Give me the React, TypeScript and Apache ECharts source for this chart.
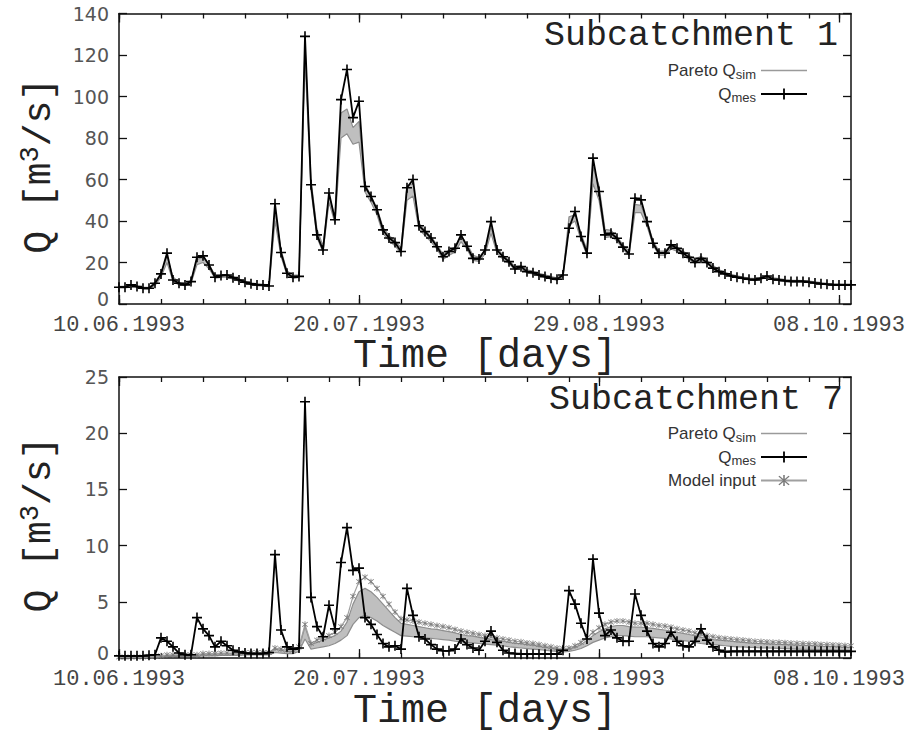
import React, { useEffect, useRef } from "react";
import * as echarts from "echarts";

// ---------- axes / ticks ----------
const startDay = { year: 1993, month: 6, day: 10 }; // 10.06.1993
const dayCount = 123;
const xTickLabels = ["10.06.1993", "20.07.1993", "29.08.1993", "08.10.1993"];
const minorTickStepDays = 7;
const yTicks1 = [0, 20, 40, 60, 80, 100, 120, 140];
const yTicks7 = [0, 5, 10, 15, 20, 25];

// ---------- Subcatchment 1 (daily values, m3/s) ----------
const q1Measured = [
  8.1, 8.1, 9.2, 8.4, 7.6, 7.6, 10, 14.5, 24.5, 11.6,
  10, 9.2, 10.8, 22.5, 23.2, 18.8, 12.9, 13.7, 14, 12.7,
  11.6, 10.5, 9.7, 9.2, 9.2, 8.7, 48.3, 24.8, 14.8, 12.9,
  13.3, 129, 57.5, 33.3, 26, 53.5, 40.6, 98.5, 113, 89.8,
  97.7, 56.6, 51.8, 45.4, 35.7, 31.8, 29.6, 25.3, 56, 60,
  37.7, 34.9, 31.8, 27.6, 22.8, 25.3, 26.9, 33.3, 27.8, 22,
  21.7, 26, 39.7, 26, 22.8, 20.4, 16.9, 18, 15.6, 15.1,
  14, 13.2, 12.4, 11.9, 14, 36.5, 44.6, 32.5, 24.5, 70.3,
  54.2, 33.3, 34.1, 31.7, 27.4, 24.1, 51, 50.2, 39.7, 29.3,
  24.5, 24.5, 28.5, 26.9, 24.5, 22.5, 20, 22, 20, 17.3,
  15.6, 14.5, 13.5, 12.9, 12.4, 11.9, 11.6, 12.4, 13.5, 11.9,
  11.6, 11.2, 10.9, 10.9, 10.9, 10.5, 10.1, 9.7, 9.5, 9.2,
  9.2, 9.2, 9.2,
];
const q1ParetoHigh = [
  8.5, 8.5, 9.0, 8.8, 8.2, 8.0, 10.5, 15, 23, 13,
  10.5, 9.8, 11.5, 21.5, 22.5, 19, 14, 14.2, 14.2, 13.2,
  12, 11, 10.2, 9.8, 9.5, 9.2, 45, 26, 16, 13.8,
  14, 125, 60, 36, 28, 52, 42, 92, 94, 85,
  88, 58, 52, 46, 37, 33, 30.5, 27, 57, 58,
  39, 35.5, 32.5, 28.5, 24, 26, 27.5, 33, 29, 23.5,
  22.5, 26, 37, 27, 23.5, 21, 18, 18.5, 16.5, 15.8,
  14.8, 14, 13.2, 12.6, 14.5, 42, 43, 34, 26, 66,
  57, 36, 35.5, 32.5, 28.5, 25.5, 48, 47.5, 40, 30.5,
  25.5, 25.5, 28.5, 27.5, 25.5, 23.5, 21.5, 23, 21, 18.5,
  16.5, 15.3, 14.3, 13.6, 13, 12.5, 12.2, 12.8, 13.6, 12.6,
  12.2, 11.8, 11.5, 11.4, 11.3, 11, 10.7, 10.3, 10, 9.8,
  9.7, 9.6, 9.6,
];
const q1ParetoLow = [
  7.8, 7.8, 8.2, 8, 7.3, 7.2, 9, 13, 20, 11,
  9.2, 8.8, 10, 19, 20, 17, 12.5, 12.8, 13, 12,
  11, 10, 9.3, 8.8, 8.6, 8.3, 40, 23, 14, 12.3,
  12.8, 118, 55, 32, 25, 49, 39, 80, 82, 77,
  78, 54, 49, 43, 34, 30.5, 28, 24.5, 50, 52,
  36, 33, 30, 26.5, 21.5, 23.5, 25, 30, 26.5, 21,
  20.5, 24, 34, 24.5, 21.5, 19.5, 16.5, 17, 15, 14.5,
  13.5, 12.8, 12, 11.5, 13, 38, 40, 31, 23.5, 58,
  50, 32, 32.5, 30.5, 26.5, 23.5, 44, 44, 37.5, 28.5,
  23.5, 23.5, 26.5, 25.5, 23.5, 21.5, 19.5, 21, 19.5, 17,
  15.3, 14.2, 13.2, 12.6, 12.1, 11.6, 11.3, 12, 12.8, 11.6,
  11.3, 11, 10.7, 10.6, 10.6, 10.3, 10, 9.6, 9.4, 9.1,
  9.1, 9.0, 9.0,
];

// ---------- Subcatchment 7 (daily values, m3/s) ----------
const q7Measured = [
  0.2, 0.2, 0.2, 0.2, 0.2, 0.25, 0.3, 1.8, 1.5, 1.0,
  0.45, 0.3, 0.3, 3.6, 2.6, 2.0, 1.0, 1.5, 1.1, 0.7,
  0.55, 0.45, 0.4, 0.4, 0.4, 0.5, 9.2, 2.5, 1.0, 0.8,
  0.9, 22.8, 5.4, 2.8, 1.9, 4.7, 2.6, 8.5, 11.6, 7.8,
  8.0, 3.6, 3.0, 2.1, 1.3, 1.0, 1.1, 0.8, 6.2, 3.8,
  1.9, 1.7, 1.2, 0.8, 0.65, 0.65, 0.8, 1.7, 1.2, 0.9,
  0.7, 1.5, 2.4, 1.4, 0.7, 0.45, 0.4, 0.35, 0.35, 0.35,
  0.35, 0.35, 0.35, 0.35, 0.7, 6.0, 4.8, 3.1, 1.7, 8.8,
  4.0, 2.0, 2.5, 1.8, 1.5, 1.5, 5.7, 3.8, 2.4, 1.3,
  1.0, 1.3, 2.3, 1.5, 1.1, 1.0, 1.5, 2.6, 1.6, 1.0,
  0.7, 0.55, 0.6, 0.6, 0.6, 0.6, 0.6, 0.6, 0.6, 0.6,
  0.6, 0.6, 0.6, 0.6, 0.6, 0.6, 0.6, 0.6, 0.6, 0.6,
  0.6, 0.6, 0.6,
];
const q7ModelInput = [
  0.1, 0.1, 0.1, 0.1, 0.1, 0.15, 0.15, 0.2, 0.3, 0.3,
  0.3, 0.3, 0.3, 0.3, 0.4, 0.4, 0.4, 0.45, 0.45, 0.45,
  0.45, 0.5, 0.5, 0.5, 0.5, 0.5, 0.9, 0.8, 0.7, 0.7,
  1.0, 3.0, 1.3, 1.6, 1.8, 2.0, 2.3, 2.8, 3.6, 5.5,
  6.8, 7.2, 6.8, 6.2, 5.5, 4.8, 4.1, 3.5, 3.4, 3.3,
  3.2, 3.1, 3.0, 2.9, 2.8, 2.7, 2.55, 2.4, 2.3, 2.2,
  2.1, 2.0, 1.9, 1.8, 1.7, 1.6, 1.5, 1.45, 1.35, 1.3,
  1.2, 1.1, 1.0, 0.9, 0.85, 0.9, 1.1, 1.4, 1.8, 2.3,
  2.7, 3.0, 3.2, 3.3, 3.3, 3.2, 3.1, 3.1, 3.1, 3.0,
  2.9, 2.85, 2.75, 2.6, 2.5, 2.4, 2.25, 2.1, 2.0, 1.9,
  1.8, 1.75, 1.7, 1.65, 1.6, 1.55, 1.5, 1.47, 1.44, 1.41,
  1.4, 1.37, 1.34, 1.32, 1.3, 1.28, 1.26, 1.22, 1.2, 1.17,
  1.15, 1.12, 1.1,
];
const q7ParetoHigh = [
  0.1, 0.1, 0.1, 0.1, 0.1, 0.12, 0.12, 0.18, 0.25, 0.25,
  0.25, 0.25, 0.25, 0.25, 0.35, 0.35, 0.35, 0.4, 0.4, 0.4,
  0.4, 0.45, 0.45, 0.45, 0.45, 0.45, 0.8, 0.7, 0.6, 0.6,
  0.9, 2.8, 1.2, 1.4, 1.6, 1.8, 2.0, 2.4, 3.2, 4.8,
  5.9, 6.2, 5.9, 5.4, 4.8, 4.2, 3.6, 3.1, 3.0, 2.9,
  2.8, 2.7, 2.6, 2.55, 2.45, 2.35, 2.25, 2.1, 2.0, 1.95,
  1.85, 1.75, 1.65, 1.6, 1.5, 1.4, 1.3, 1.28, 1.2, 1.15,
  1.05, 0.95, 0.9, 0.8, 0.75, 0.8, 0.95, 1.2, 1.6, 2.0,
  2.35, 2.6, 2.8, 2.9, 2.9, 2.8, 2.75, 2.75, 2.7, 2.65,
  2.55, 2.5, 2.4, 2.3, 2.2, 2.1, 2.0, 1.85, 1.75, 1.65,
  1.6, 1.55, 1.5, 1.45, 1.4, 1.35, 1.3, 1.3, 1.27, 1.24,
  1.22, 1.2, 1.18, 1.16, 1.14, 1.12, 1.1, 1.07, 1.05, 1.03,
  1.0, 0.98, 0.96,
];
const q7ParetoLow = [
  0.05, 0.05, 0.05, 0.05, 0.05, 0.08, 0.08, 0.1, 0.15, 0.15,
  0.15, 0.15, 0.15, 0.15, 0.2, 0.2, 0.2, 0.25, 0.25, 0.25,
  0.25, 0.28, 0.28, 0.28, 0.28, 0.28, 0.5, 0.45, 0.4, 0.4,
  0.6, 1.7, 0.8, 0.9, 1.0, 1.1, 1.3, 1.6, 2.0, 3.0,
  3.6, 3.8, 3.6, 3.3, 2.9, 2.6, 2.3, 2.0, 1.95, 1.9,
  1.85, 1.8, 1.75, 1.7, 1.65, 1.6, 1.5, 1.45, 1.4, 1.35,
  1.3, 1.25, 1.2, 1.15, 1.1, 1.0, 0.95, 0.9, 0.85, 0.8,
  0.75, 0.7, 0.65, 0.6, 0.55, 0.6, 0.7, 0.85, 1.1, 1.4,
  1.6, 1.8, 1.9, 2.0, 2.0, 1.95, 1.9, 1.9, 1.9, 1.85,
  1.8, 1.75, 1.7, 1.6, 1.55, 1.5, 1.4, 1.3, 1.25, 1.2,
  1.15, 1.1, 1.05, 1.0, 1.0, 0.95, 0.95, 0.9, 0.9, 0.88,
  0.86, 0.84, 0.82, 0.8, 0.78, 0.77, 0.76, 0.75, 0.74, 0.73,
  0.72, 0.71, 0.7,
];

// ---------- helpers ----------
const MONO = '"Liberation Mono", "DejaVu Sans Mono", monospace';
const SANS = '"Liberation Sans", Arial, sans-serif';
const TICKSANS = '"DejaVu Sans", sans-serif';
const PLUS = "path://M4.2,0H5.8V4.2H10V5.8H5.8V10H4.2V5.8H0V4.2H4.2Z";
const STAR =
  "path://M4.4,0H5.6V10H4.4Z M0.7,1.5L1.5,0.7L9.3,8.5L8.5,9.3Z M8.5,0.7L9.3,1.5L1.5,9.3L0.7,8.5Z";
const LINE_ICON = "path://M0,0H46V1.6H0Z";

const pad2 = (n: number) => (n < 10 ? "0" + n : "" + n);
const days: string[] = [];
for (let i = 0; i < dayCount; i++) {
  const d = new Date(Date.UTC(startDay.year, startDay.month - 1, startDay.day + i));
  days.push(`${pad2(d.getUTCDate())}.${pad2(d.getUTCMonth() + 1)}.${d.getUTCFullYear()}`);
}
const majorIdx = xTickLabels.map((l) => days.indexOf(l));
const majorSet = new Set(majorIdx);
const minorSet = new Set<number>();
majorIdx.forEach((m, k) => {
  const next = k + 1 < majorIdx.length ? majorIdx[k + 1] : dayCount;
  for (let i = m; i < next; i += minorTickStepDays) minorSet.add(i);
});
const isMajor = (i: number) => majorSet.has(i);
const isMinor = (i: number) => minorSet.has(i);

const BLACK = "#111";
const axisLine = { show: true, lineStyle: { color: BLACK, width: 1.5 } };

function xAxesFor(gridIndex: number) {
  const base = {
    type: "category",
    gridIndex,
    data: days,
    boundaryGap: false,
    splitLine: { show: false },
  };
  const tick = (len: number, fn: (i: number) => boolean) => ({
    show: true,
    inside: true,
    length: len,
    interval: fn,
    lineStyle: { color: BLACK, width: 1.3 },
  });
  return [
    {
      ...base,
      position: "bottom",
      axisLine,
      axisTick: tick(9, isMajor),
      axisLabel: {
        interval: (i: number) => isMajor(i),
        fontFamily: MONO,
        fontSize: 22,
        lineHeight: 18,
        color: "#444",
        margin: 12,
      },
      name: "Time [days]",
      nameLocation: "middle",
      nameGap: 27,
      nameTextStyle: { fontFamily: MONO, fontSize: 40, color: "#222" },
    },
    { ...base, position: "bottom", axisLine: { show: false }, axisTick: tick(5, isMinor), axisLabel: { show: false } },
    { ...base, position: "top", axisLine, axisTick: tick(9, isMajor), axisLabel: { show: false } },
    { ...base, position: "top", axisLine: { show: false }, axisTick: tick(5, isMinor), axisLabel: { show: false } },
  ];
}

function yAxesFor(gridIndex: number, ticks: number[]) {
  const range = {
    type: "value",
    gridIndex,
    min: ticks[0],
    max: ticks[ticks.length - 1],
    interval: ticks[1] - ticks[0],
    splitLine: { show: false },
    axisLine,
    axisTick: { show: true, inside: true, length: 8, lineStyle: { color: BLACK, width: 1.3 } },
  };
  const labelFont = { fontFamily: TICKSANS, fontSize: 19, color: "#555" };
  return [
    {
      ...range,
      position: "left",
      axisLabel: {
        ...labelFont,
        lineHeight: 16,
        margin: 10,
        formatter: (v: number) => (v === ticks[0] ? `{z|${v}}` : `${v}`),
        rich: { z: { ...labelFont, lineHeight: 16, padding: [0, 0, 10, 0] } },
      },
      name: "{t|Q [m}{s|3}{t|/s]}",
      nameLocation: "middle",
      nameRotate: 90,
      nameGap: 58,
      nameTextStyle: {
        padding: [0, 14, 0, 0],
        rich: {
          t: { fontFamily: MONO, fontSize: 38, color: "#222", lineHeight: 44 },
          s: { fontFamily: MONO, fontSize: 27, color: "#222", verticalAlign: "top", lineHeight: 27 },
        },
      },
    },
    { ...range, position: "right", axisLabel: { show: false } },
  ];
}

const GRAY_LINE = "#8e8e8e";
const BAND_FILL = "#b4b4b4";

function paretoSeries(xi: number, yi: number, low: number[], high: number[], stack: string) {
  return [
    {
      name: "Pareto Q_sim (min)",
      type: "line",
      xAxisIndex: xi,
      yAxisIndex: yi,
      data: low,
      stack,
      symbol: "none",
      lineStyle: { color: GRAY_LINE, width: 1.2 },
      z: 2,
    },
    {
      name: "Pareto Q_sim",
      type: "line",
      xAxisIndex: xi,
      yAxisIndex: yi,
      data: high.map((h, i) => h - low[i]),
      stack,
      symbol: "none",
      lineStyle: { color: GRAY_LINE, width: 1.2 },
      itemStyle: { color: "#9a9a9a" },
      areaStyle: { color: BAND_FILL, opacity: 0.85 },
      z: 2,
    },
  ];
}

function measuredSeries(xi: number, yi: number, data: number[]) {
  return {
    name: "Q_mes",
    type: "line",
    xAxisIndex: xi,
    yAxisIndex: yi,
    data,
    symbol: PLUS,
    symbolSize: 10,
    showAllSymbol: true,
    itemStyle: { color: "#000" },
    lineStyle: { color: "#000", width: 1.8 },
    z: 5,
  };
}

const legendRich = {
  t: { fontFamily: SANS, fontSize: 17, color: "#333", lineHeight: 20 },
  s: { fontFamily: SANS, fontSize: 13, color: "#333", verticalAlign: "bottom", lineHeight: 13 },
};
const legendFormatter = (name: string) => {
  if (name === "Pareto Q_sim") return "{t|Pareto Q}{s|sim}";
  if (name === "Q_mes") return "{t|Q}{s|mes}";
  return "{t|" + name + "}";
};
function legendAt(top: number, names: string[]) {
  return {
    data: names.map((n) => (n === "Pareto Q_sim" ? { name: n, icon: LINE_ICON } : { name: n })),
    orient: "vertical",
    align: "right",
    right: 100,
    top,
    padding: 0,
    itemWidth: 46,
    itemHeight: 14,
    itemGap: 5,
    selectedMode: false,
    formatter: legendFormatter,
    textStyle: { rich: legendRich },
  };
}

function buildOption() {
  return {
    animation: false,
    backgroundColor: "#fff",
    title: [
      {
        text: "Subcatchment 1",
        right: 70,
        top: 18,
        padding: 0,
        textStyle: { fontFamily: MONO, fontSize: 35, fontWeight: "normal", color: "#222" },
      },
      {
        text: "Subcatchment 7",
        right: 65,
        top: 382,
        padding: 0,
        textStyle: { fontFamily: MONO, fontSize: 35, fontWeight: "normal", color: "#222" },
      },
    ],
    legend: [
      legendAt(62, ["Pareto Q_sim", "Q_mes"]),
      legendAt(425, ["Pareto Q_sim", "Q_mes", "Model input"]),
    ],
    grid: [
      { left: 119, top: 13.5, width: 733, height: 290.5, containLabel: false },
      { left: 119, top: 377, width: 733, height: 291, containLabel: false },
    ],
    xAxis: [...xAxesFor(0), ...xAxesFor(1)],
    yAxis: [...yAxesFor(0, yTicks1), ...yAxesFor(1, yTicks7)],
    series: [
      ...paretoSeries(0, 0, q1ParetoLow, q1ParetoHigh, "pareto1"),
      measuredSeries(0, 0, q1Measured),
      ...paretoSeries(4, 2, q7ParetoLow, q7ParetoHigh, "pareto7"),
      {
        name: "Model input",
        type: "line",
        xAxisIndex: 4,
        yAxisIndex: 2,
        data: q7ModelInput,
        symbol: STAR,
        symbolSize: 6,
        showAllSymbol: true,
        itemStyle: { color: "#7a7a7a" },
        lineStyle: { color: "#a0a0a0", width: 1.2 },
        z: 3,
      },
      measuredSeries(4, 2, q7Measured),
    ],
  };
}

export default function App() {
  const ref = useRef<HTMLDivElement>(null);
  useEffect(() => {
    if (!ref.current) return;
    const chart = echarts.init(ref.current, null, { renderer: "svg" });
    chart.setOption(buildOption() as any);
    return () => chart.dispose();
  }, []);
  return (
    <div
      ref={ref}
      style={{ position: "absolute", left: 0, top: 0, width: 908, height: 732, background: "#fff" }}
    />
  );
}
